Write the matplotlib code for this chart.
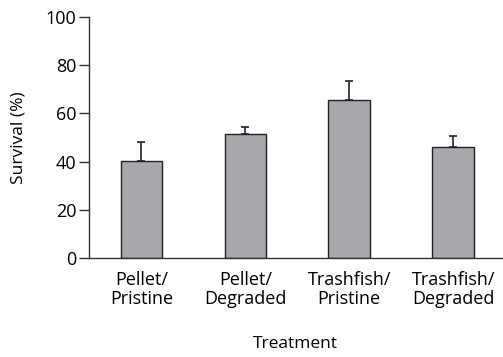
import matplotlib.pyplot as plt
import numpy as np

categories = ["Pellet/\nPristine", "Pellet/\nDegraded", "Trashfish/\nPristine", "Trashfish/\nDegraded"]
survival = [40.3, 51.6, 65.4, 45.9]
err = [7.9, 2.8, 8.1, 4.6]

plt.rcParams['font.family'] = ['Open Sans', 'DejaVu Sans']

fig = plt.figure(figsize=(5.03, 3.57), dpi=100)
ax = fig.add_axes([0.177, 0.2765, 0.821, 0.6765])

x = np.arange(len(categories))
ax.bar(x, survival, width=0.4, color="#a7a8ab", edgecolor="#222222", linewidth=1.0, zorder=2)
ax.errorbar(x, survival, yerr=[np.zeros(len(err)), err], fmt="none",
            ecolor="#222222", elinewidth=1.2, capsize=3, capthick=1.2, zorder=1)

ax.set_xlim(-0.505, 3.47)
ax.set_ylim(0, 100)
ax.set_yticks([0, 20, 40, 60, 80, 100])
ax.set_xticks(x)
ax.set_xticklabels(categories, fontsize=13, linespacing=1.1)
ax.tick_params(axis="x", length=0, pad=9)
ax.tick_params(axis="y", length=7, width=1, color="#333333", labelsize=13, pad=2)
for s in ["top", "right"]:
    ax.spines[s].set_visible(False)
for s in ["left", "bottom"]:
    ax.spines[s].set_color("#333333")
    ax.spines[s].set_linewidth(1)
ax.set_ylabel("Survival (%)", fontsize=12.5, labelpad=14)
ax.set_xlabel("Treatment", fontsize=12.5, labelpad=20)

fig.savefig("out.png", dpi=100)
